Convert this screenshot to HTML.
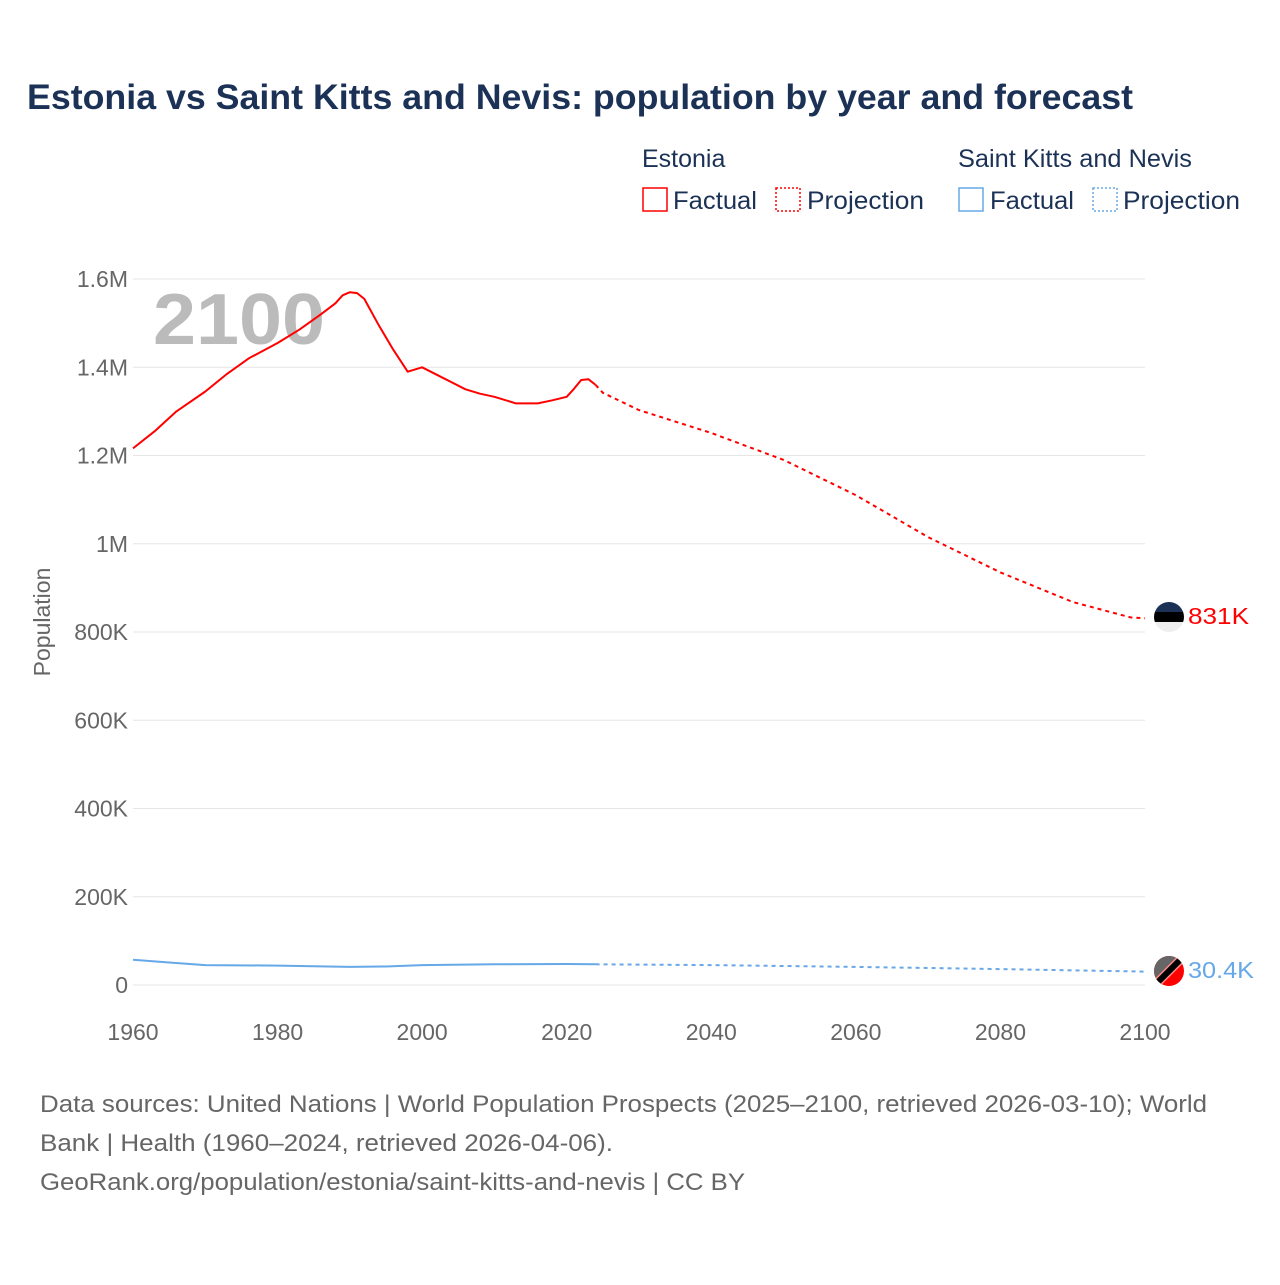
<!DOCTYPE html>
<html><head><meta charset="utf-8"><style>
body{margin:0;background:#fff;font-family:"Liberation Sans",sans-serif;}
</style></head><body>
<svg width="1280" height="1280" xmlns="http://www.w3.org/2000/svg" style="font-family:'Liberation Sans',sans-serif">
<text x="27" y="109" font-size="35" font-weight="bold" fill="#1b3256" textLength="1106" lengthAdjust="spacingAndGlyphs">Estonia vs Saint Kitts and Nevis: population by year and forecast</text>
<g font-size="25" fill="#1b3256">
<text x="642" y="167">Estonia</text>
<text x="958" y="167" textLength="234" lengthAdjust="spacingAndGlyphs">Saint Kitts and Nevis</text>
<rect x="643" y="188" width="24" height="23" fill="none" stroke="red" stroke-width="1.5"/>
<text x="673" y="209" textLength="84" lengthAdjust="spacingAndGlyphs">Factual</text>
<rect x="776" y="188" width="24" height="23" fill="none" stroke="red" stroke-width="1.5" stroke-dasharray="2,2"/>
<text x="807" y="209" textLength="117" lengthAdjust="spacingAndGlyphs">Projection</text>
<rect x="959" y="188" width="24" height="23" fill="none" stroke="#66a8e8" stroke-width="1.5"/>
<text x="990" y="209" textLength="84" lengthAdjust="spacingAndGlyphs">Factual</text>
<rect x="1093" y="188" width="24" height="23" fill="none" stroke="#66a8e8" stroke-width="1.5" stroke-dasharray="2,2"/>
<text x="1123" y="209" textLength="117" lengthAdjust="spacingAndGlyphs">Projection</text>
</g>
<g id="grid"></g>
<text x="153" y="344" font-size="72" font-weight="bold" fill="#bbb" textLength="172" lengthAdjust="spacingAndGlyphs">2100</text>
<text transform="translate(50,622) rotate(-90)" text-anchor="middle" font-size="23" fill="#666">Population</text>
<g id="marks"></g>
<g>
<clipPath id="c1"><circle cx="1169" cy="617" r="15"/></clipPath>
<g clip-path="url(#c1)"><rect x="1150" y="600" width="40" height="12" fill="#1b3256"/><rect x="1150" y="612" width="40" height="10" fill="#000"/><rect x="1150" y="622" width="40" height="12" fill="#eee"/></g></g>
<g>
<clipPath id="c2"><circle cx="1169" cy="971" r="15"/></clipPath>
<g clip-path="url(#c2)"><rect x="1150" y="950" width="40" height="40" fill="red"/><polygon points="1150,950 1190,950 1150,990" fill="#666"/><line x1="1186" y1="954" x2="1152" y2="988" stroke="#f88" stroke-width="9"/><line x1="1186" y1="954" x2="1152" y2="988" stroke="#000" stroke-width="6"/></g></g>
<text x="1188" y="624" font-size="23" fill="red" textLength="61" lengthAdjust="spacingAndGlyphs">831K</text>
<text x="1188" y="978" font-size="23" fill="#66a8e8" textLength="66" lengthAdjust="spacingAndGlyphs">30.4K</text>
<g font-size="24" fill="#666">
<text x="40" y="1112" textLength="1167" lengthAdjust="spacingAndGlyphs">Data sources: United Nations | World Population Prospects (2025–2100, retrieved 2026-03-10); World</text>
<text x="40" y="1151" textLength="573" lengthAdjust="spacingAndGlyphs">Bank | Health (1960–2024, retrieved 2026-04-06).</text>
<text x="40" y="1190" textLength="705" lengthAdjust="spacingAndGlyphs">GeoRank.org/population/estonia/saint-kitts-and-nevis | CC BY</text>
</g>
</svg>
<script>
const yTicks=[0,200000,400000,600000,800000,1000000,1200000,1400000,1600000];
const yTickLabels=["0","200K","400K","600K","800K","1M","1.2M","1.4M","1.6M"];
const xTicks=[1960,1980,2000,2020,2040,2060,2080,2100];
const estYearsF=[1960,1963,1966,1970,1973,1976,1980,1983,1986,1988,1989,1990,1991,1992,1994,1996,1998,2000,2003,2006,2008,2010,2013,2016,2018,2020,2021,2022,2023,2024];
const estValsF=[1216000,1255000,1300000,1345000,1385000,1420000,1455000,1485000,1520000,1545000,1563000,1570000,1568000,1555000,1495000,1440000,1390000,1400000,1375000,1350000,1340000,1333000,1318000,1318000,1325000,1333000,1351000,1371000,1373000,1360000];
const estYearsP=[2024,2025,2030,2040,2050,2060,2070,2080,2090,2098,2100];
const estValsP=[1360000,1342000,1303000,1251000,1190000,1110000,1015000,935000,868000,833000,831000];
const sknYearsF=[1960,1965,1970,1980,1990,1995,2000,2010,2020,2024];
const sknValsF=[57000,51000,45000,44000,41000,42000,45000,47000,47500,47000];
const sknYearsP=[2024,2040,2060,2080,2100];
const sknValsP=[47000,45000,41000,36000,30400];
const X=y=>133+(y-1960)*(1012/140);
const Y=v=>985-v*(706/1600000);
const ns="http://www.w3.org/2000/svg";
const grid=document.getElementById('grid'),marks=document.getElementById('marks');
yTicks.forEach((t,i)=>{
 const l=document.createElementNS(ns,'line');
 
 
 l.setAttribute('x1',133);l.setAttribute('x2',1145);l.setAttribute('y1',Y(t));l.setAttribute('y2',Y(t));
 l.setAttribute('stroke','#e6e6e6');grid.appendChild(l);
 const tx=document.createElementNS(ns,'text');
 
 
 tx.setAttribute('x',128);tx.setAttribute('y',Y(t)+8);tx.setAttribute('text-anchor','end');
 tx.setAttribute('font-size','23');tx.setAttribute('fill','#666');tx.textContent=yTickLabels[i];grid.appendChild(tx);
});
xTicks.forEach(t=>{
 const tx=document.createElementNS(ns,'text');
 
 
 tx.setAttribute('x',X(t));tx.setAttribute('y',1040);tx.setAttribute('text-anchor','middle');
 tx.setAttribute('font-size','23');tx.setAttribute('fill','#666');tx.textContent=t;grid.appendChild(tx);
});
function line(xs,vs,color,dash,name){
 const p=document.createElementNS(ns,'path');
 
 
 p.setAttribute('d',xs.map((x,i)=>(i?'L':'M')+X(x).toFixed(1)+','+Y(vs[i]).toFixed(1)).join(''));
 p.setAttribute('fill','none');p.setAttribute('stroke',color);p.setAttribute('stroke-width','2');
 p.setAttribute('stroke-linejoin','round');
 if(dash)p.setAttribute('stroke-dasharray','4,4');
 marks.appendChild(p);
}
line(estYearsF,estValsF,'red',false,'estonia-factual-line');
line(estYearsP,estValsP,'red',true,'estonia-projection-line');
line(sknYearsF,sknValsF,'#66a8e8',false,'skn-factual-line');
line(sknYearsP,sknValsP,'#66a8e8',true,'skn-projection-line');
</script>
</body></html>
